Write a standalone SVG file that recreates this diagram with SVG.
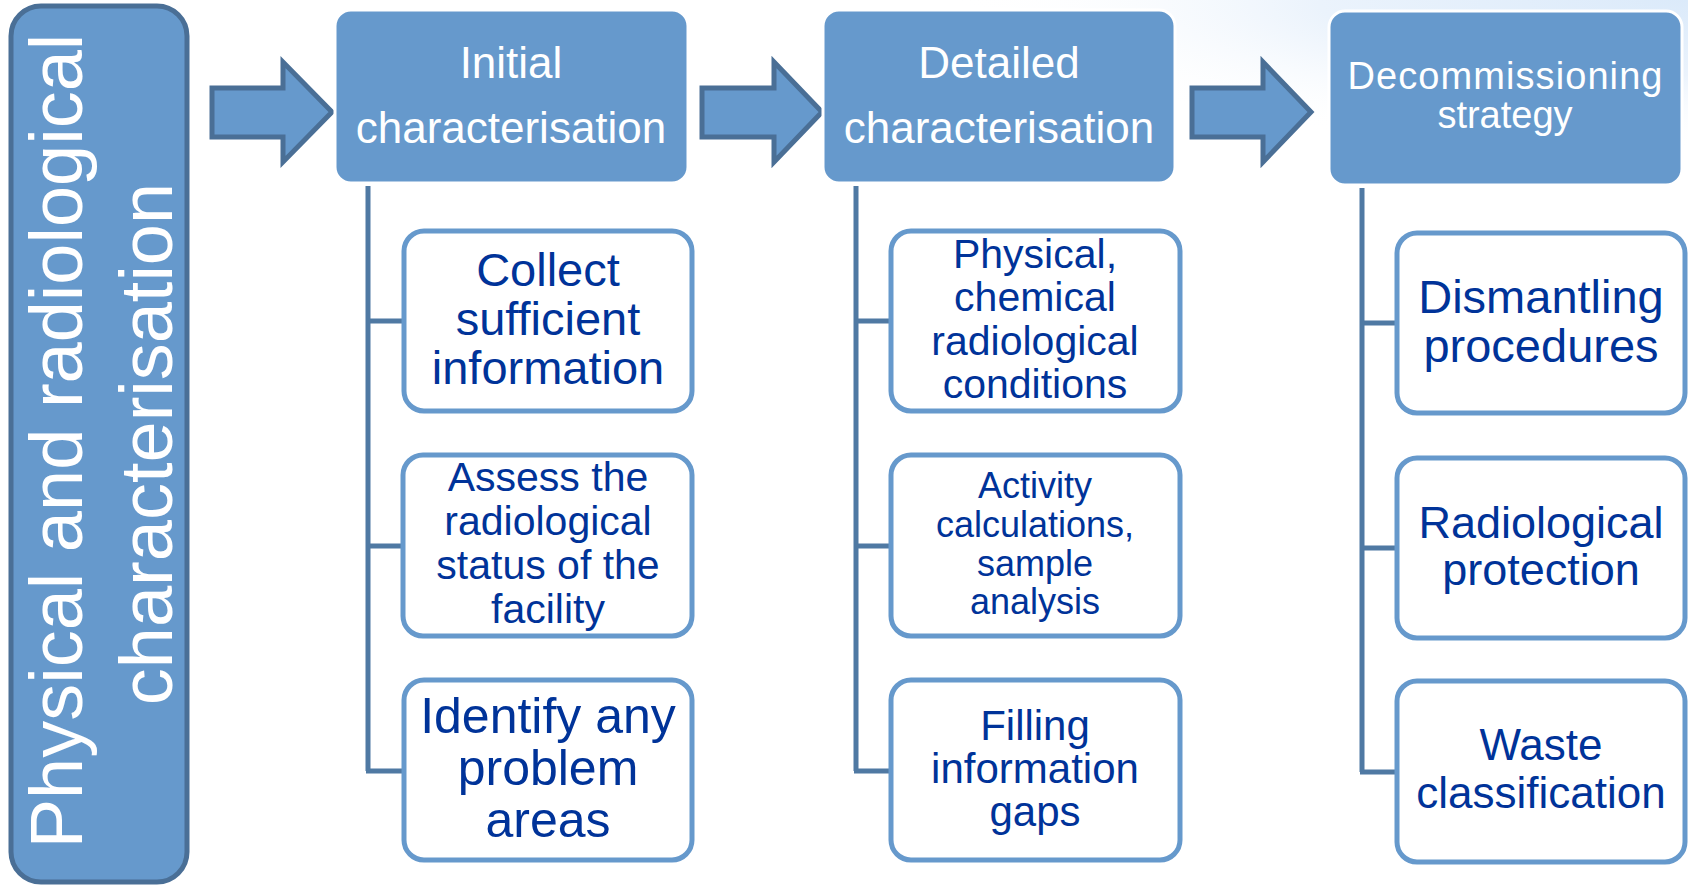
<svg xmlns="http://www.w3.org/2000/svg" width="1688" height="885" viewBox="0 0 1688 885">
<defs>
<radialGradient id="bg" cx="1" cy="0" r="1" gradientUnits="objectBoundingBox">
<stop offset="0" stop-color="#dbeafa"/>
<stop offset="0.5" stop-color="#ebf3fc"/>
<stop offset="1" stop-color="#ffffff" stop-opacity="0"/>
</radialGradient>
<style>
.main{fill:#6699cc;stroke:#ffffff;stroke-width:3}
.side{fill:#6699cc;stroke:#4a6f96;stroke-width:5}
.arrow{fill:#6699cc;stroke:#4a6f96;stroke-width:5;stroke-linejoin:miter}
.child{fill:#ffffff;stroke:#6699cc;stroke-width:5}
.conn{fill:none;stroke:#4f79a3;stroke-width:5}
.wt{fill:#ffffff;font-family:"Liberation Sans",Arial,sans-serif;text-anchor:middle}
.bt{fill:#003399;font-family:"Liberation Sans",Arial,sans-serif;text-anchor:middle}
</style>
</defs>
<rect x="0" y="0" width="1688" height="885" fill="#ffffff"/>
<rect x="950" y="0" width="738" height="150" fill="url(#bg)"/>

<g id="side">
<rect class="side" x="11" y="6" width="176" height="876" rx="30"/>
<text class="wt" font-size="74" transform="translate(82,441) rotate(-90)">Physical and radiological</text>
<text class="wt" font-size="74" transform="translate(172,444) rotate(-90)">characterisation</text>
</g>

<g id="arrows">
<polygon class="arrow" points="212,88 283,88 283,62 332,112 283,162 283,137 212,137"/>
<polygon class="arrow" points="702,88 774,88 774,62 822,112 774,162 774,137 702,137"/>
<polygon class="arrow" points="1192,88 1263,88 1263,62 1311,112 1263,162 1263,137 1192,137"/>
</g>

<g id="connectors">
<path class="conn" d="M368,186 V771 M368,321 H404 M368,546 H404 M366,771 H404"/>
<path class="conn" d="M856,186 V771 M856,321 H891 M856,546 H891 M854,771 H891"/>
<path class="conn" d="M1362,188 V772 M1362,323 H1397 M1362,548 H1397 M1360,772 H1397"/>
</g>

<g id="initial">
<rect class="main" x="335" y="10" width="353" height="173" rx="16"/>
<text class="wt" font-size="44" x="511" y="78">Initial</text>
<text class="wt" font-size="44" x="511" y="143">characterisation</text>
</g>

<g id="detailed">
<rect class="main" x="823" y="10" width="352" height="173" rx="16"/>
<text class="wt" font-size="44" x="999" y="78">Detailed</text>
<text class="wt" font-size="44" x="999" y="143">characterisation</text>
</g>

<g id="strategy">
<rect class="main" x="1329" y="11" width="353" height="174" rx="16"/>
<text class="wt" font-size="38" x="1505" y="89" textLength="315">Decommissioning</text>
<text class="wt" font-size="38" x="1505" y="128">strategy</text>
</g>

<g id="collect">
<rect class="child" x="404" y="231" width="288" height="180" rx="20"/>
<text class="bt" font-size="47" x="548" y="286">Collect</text>
<text class="bt" font-size="47" x="548" y="335">sufficient</text>
<text class="bt" font-size="47" x="548" y="384">information</text>
</g>

<g id="assess">
<rect class="child" x="403" y="455" width="289" height="181" rx="20"/>
<text class="bt" font-size="41" x="548" y="491">Assess the</text>
<text class="bt" font-size="41" x="548" y="535">radiological</text>
<text class="bt" font-size="41" x="548" y="579">status of the</text>
<text class="bt" font-size="41" x="548" y="623">facility</text>
</g>

<g id="identify">
<rect class="child" x="404" y="680" width="288" height="180" rx="20"/>
<text class="bt" font-size="50" x="548" y="733">Identify any</text>
<text class="bt" font-size="50" x="548" y="785">problem</text>
<text class="bt" font-size="50" x="548" y="837">areas</text>
</g>

<g id="physical">
<rect class="child" x="891" y="231" width="289" height="180" rx="20"/>
<text class="bt" font-size="41" x="1035" y="268">Physical,</text>
<text class="bt" font-size="41" x="1035" y="311">chemical</text>
<text class="bt" font-size="41" x="1035" y="355">radiological</text>
<text class="bt" font-size="41" x="1035" y="398">conditions</text>
</g>

<g id="activity">
<rect class="child" x="891" y="455" width="289" height="181" rx="20"/>
<text class="bt" font-size="36" x="1035" y="498">Activity</text>
<text class="bt" font-size="36" x="1035" y="537">calculations,</text>
<text class="bt" font-size="36" x="1035" y="576">sample</text>
<text class="bt" font-size="36" x="1035" y="614">analysis</text>
</g>

<g id="filling">
<rect class="child" x="891" y="680" width="289" height="180" rx="20"/>
<text class="bt" font-size="42" x="1035" y="740">Filling</text>
<text class="bt" font-size="42" x="1035" y="783">information</text>
<text class="bt" font-size="42" x="1035" y="826">gaps</text>
</g>

<g id="dismantling">
<rect class="child" x="1397" y="233" width="288" height="180" rx="20"/>
<text class="bt" font-size="47" x="1541" y="313">Dismantling</text>
<text class="bt" font-size="47" x="1541" y="362">procedures</text>
</g>

<g id="protection">
<rect class="child" x="1397" y="458" width="288" height="180" rx="20"/>
<text class="bt" font-size="45" x="1541" y="538">Radiological</text>
<text class="bt" font-size="45" x="1541" y="585">protection</text>
</g>

<g id="waste">
<rect class="child" x="1397" y="681" width="288" height="181" rx="20"/>
<text class="bt" font-size="44" x="1541" y="760">Waste</text>
<text class="bt" font-size="44" x="1541" y="808">classification</text>
</g>
</svg>
